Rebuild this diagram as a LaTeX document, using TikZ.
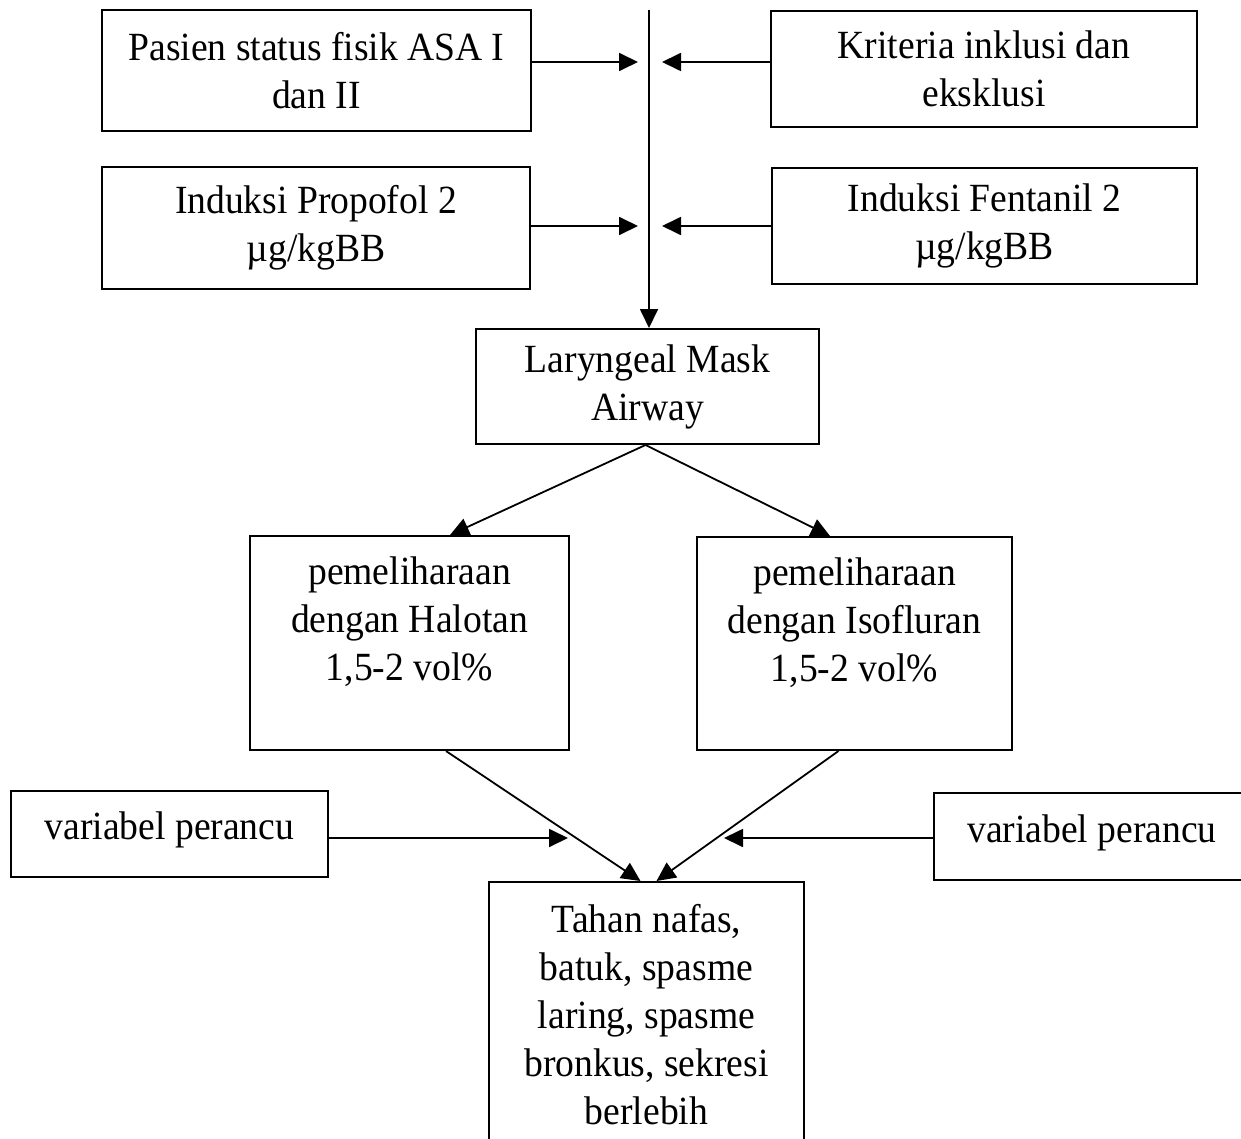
\documentclass[tikz,border=0pt]{standalone}
\usepackage{fontspec}
\setmainfont[FakeStretch=0.94]{Liberation Serif}
\usetikzlibrary{arrows.meta, positioning}
\tikzstyle{process} = [rectangle, inner sep=0pt, align=center, text centered, draw=black, line width=1pt, font=\fontsize{20}{24}\selectfont]
\tikzstyle{arrow} = [line width=0.9pt,-{Triangle[length=9.5pt,width=9pt]}]

\begin{document}
\begin{tikzpicture}[x=0.5pt, y=-0.5pt]
\useasboundingbox (0,0) rectangle (1241,1139);
\clip (0,0) rectangle (1241,1139);

% Nodes
\node (pasien) [process, minimum width=214.5pt, minimum height=60.5pt] at (316.5,70.5)
{Pasien status fisik ASA I\\dan II};

\node (kriteria) [process, minimum width=213pt, minimum height=58pt] at (984,69)
{Kriteria inklusi dan\\eksklusi};

\node (propofol) [process, minimum width=214pt, minimum height=61pt] at (316,228)
{Induksi Propofol 2\\µg/kgBB};

\node (fentanil) [process, minimum width=212.5pt, minimum height=58pt] at (984.5,226)
{Induksi Fentanil 2\\µg/kgBB};

\node (lma) [process, minimum width=171.5pt, minimum height=57.5pt] at (647.5,386.5)
{Laryngeal Mask\\Airway};

\node (halotan) [process, minimum width=159.5pt, minimum height=107pt] at (409.5,643)
{pemeliharaan\\dengan Halotan\\1,5-2 vol\%\\\mbox{}};

\node (isofluran) [process, minimum width=157.5pt, minimum height=106.5pt] at (854.5,643.5)
{pemeliharaan\\dengan Isofluran\\1,5-2 vol\%\\\mbox{}};

\node (perancuL) [process, minimum width=158.5pt, minimum height=43pt] at (169.5,834)
{\raisebox{2pt}[\height][\depth]{variabel perancu}};

\node (perancuR) [process, minimum width=158pt, minimum height=43.5pt] at (1092,836.5)
{\raisebox{2pt}[\height][\depth]{variabel perancu}};

\node (hasil) [process, minimum width=157.5pt, minimum height=132.5pt] at (646.5,1014.5)
{Tahan nafas,\\batuk, spasme\\laring, spasme\\bronkus, sekresi\\berlebih};

% Junctions
\coordinate (top) at (649,10);
\coordinate (in1l) at (638,62);
\coordinate (in1r) at (662,62);
\coordinate (in2l) at (638,226);
\coordinate (in2r) at (662,226);
\coordinate (jl) at (568,838);
\coordinate (jr) at (724,838);

% Arrows
\draw [arrow] (top) -- (top |- lma.north);
\draw [arrow] (pasien.east |- in1l) -- (in1l);
\draw [arrow] (kriteria.west |- in1r) -- (in1r);
\draw [arrow] (propofol.east |- in2l) -- (in2l);
\draw [arrow] (fentanil.west |- in2r) -- (in2r);
\draw [arrow] ([xshift=-1pt]lma.south) -- ([xshift=20.25pt]halotan.north);
\draw [arrow] ([xshift=-1pt]lma.south) -- ([xshift=-12.25pt]isofluran.north);
\draw [arrow] ([xshift=18.25pt]halotan.south) -- ([xshift=-3pt]hasil.north);
\draw [arrow] ([xshift=-8pt]isofluran.south) -- ([xshift=5pt]hasil.north);
\draw [arrow] (perancuL.east |- jl) -- (jl);
\draw [arrow] (perancuR.west |- jr) -- (jr);

\end{tikzpicture}
\end{document}
